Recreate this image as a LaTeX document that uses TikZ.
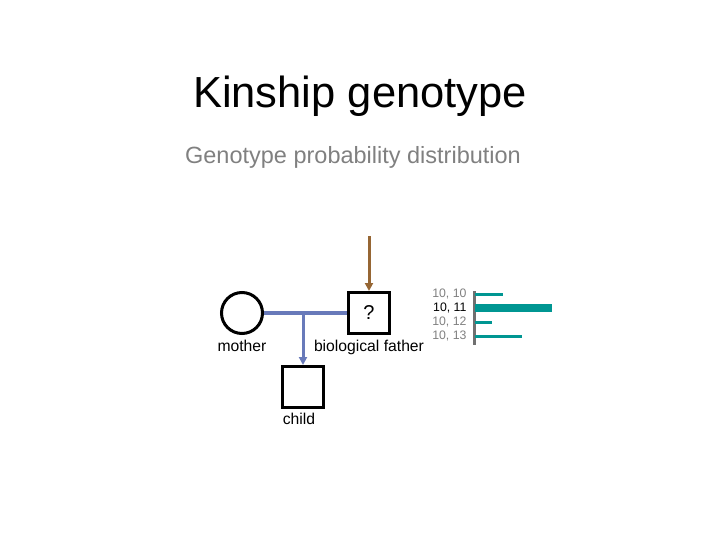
\documentclass[tikz,border=0pt]{standalone}
\usepackage{fontspec}
\usetikzlibrary{arrows.meta}
\setmainfont{Liberation Sans}
\definecolor{linkblue}{RGB}{104,122,186}
\definecolor{linkbrown}{RGB}{150,102,52}
\definecolor{barteal}{RGB}{0,150,146}
\definecolor{axisgray}{RGB}{112,112,112}
\definecolor{labelgray}{RGB}{128,128,128}
\tikzset{
  person/.style={draw, line width=3pt, minimum size=41pt, inner sep=0pt},
  tag/.style={anchor=base, font=\fontsize{15.7}{18}\selectfont},
  gtype/.style={anchor=east, font=\fontsize{12.3}{14}\selectfont, text=labelgray}
}
\begin{document}
\begin{tikzpicture}[x=1pt, y=-1pt, >={Triangle[length=8pt, width=8pt]}]

  \useasboundingbox (0,0) rectangle (720,540);

  % Titels
  \node[anchor=base, font=\fontsize{43.5}{50}\selectfont] (title) at (360,108) {Kinship genotype};
  \node[anchor=base, font=\fontsize{23.5}{28}\selectfont, text=labelgray] (subtitle) at (353,164) {Genotype probability distribution};

  % Personen
  \node[person, circle] (mother) at (242,313) {};
  \node[person, rectangle, font=\fontsize{20}{24}\selectfont] (father) at (369,313) {?};
  \node[person, rectangle] (child) at (303,387) {};

  % Labels
  \node[tag] (mlabel) at (242,351) {mother};
  \node[tag] (flabel) at (369,351) {biological father};
  \node[tag] (clabel) at (299,424) {child};

  % Verbindingen
  \coordinate (source) at (369,236);
  \coordinate (split) at (303,313);
  \draw[->, linkbrown, line width=3pt] (source) -- (father.north);
  \draw[linkblue, line width=4pt] (mother.east) -- (father.west);
  \draw[->, linkblue, line width=3pt] (split) -- (child.north);

  % Verdeling
  \draw[axisgray, line width=3pt] (474,291) -- (474,345);
  \fill[barteal] (475,292.5) rectangle (503,295.5);
  \fill[barteal] (475,304) rectangle (552,312);
  \fill[barteal] (475,320.5) rectangle (492,323.5);
  \fill[barteal] (475,334.5) rectangle (522,337.5);
  \foreach \g/\y in {10/294, 12/322, 13/336}
    \node[gtype] (g\g) at (470,\y) {10, \g};
  \node[gtype, text=black] (g11) at (470,308) {10, 11};

\end{tikzpicture}
\end{document}
